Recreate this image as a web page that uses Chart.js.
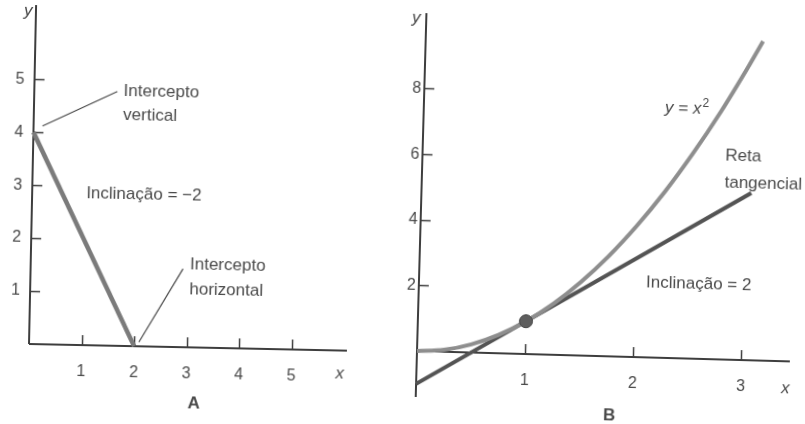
<!DOCTYPE html>
<html>
<head>
<meta charset="utf-8">
<script src="https://cdn.jsdelivr.net/npm/chart.js@4/dist/chart.umd.min.js"></script>
<style>
  html, body { margin: 0; padding: 0; background: #fff; overflow: hidden; }
  #wrap { position: relative; width: 805px; height: 424px; overflow: hidden; }
  .panel { position: absolute; top: 0; height: 424px; }
  /* leve inclinação da figura digitalizada */
  #panelA { left: 0; width: 400px; transform: rotate(1.2deg); transform-origin: 29px 344px; }
  #panelB { left: 400px; width: 405px; transform: rotate(1.6deg); transform-origin: 17px 351px; }
</style>
</head>
<body>
<div id="wrap">
  <div class="panel" id="panelA"><canvas id="chartA"></canvas></div>
  <div class="panel" id="panelB"><canvas id="chartB"></canvas></div>
</div>
<script>
// ── Dados ──

// Painel A: reta com inclinação -2
const lineAX = [0, 2];
const lineAY = [4, 0];
const xTicksA = [1, 2, 3, 4, 5];
const yTicksA = [1, 2, 3, 4, 5];

// Painel B: curva y = x² e reta tangente em x = 1
const curveBX = [0, 0.25, 0.5, 0.75, 1, 1.25, 1.5, 1.75, 2, 2.25, 2.5, 2.75, 3, 3.12];
const curveBY = [0, 0.06, 0.25, 0.56, 1, 1.56, 2.25, 3.06, 4, 5.06, 6.25, 7.56, 9, 9.73];
const tangentBX = [0, 3.05];
const tangentBY = [-1, 5.1];
const pointBX = [1];
const pointBY = [1];
const xTicksB = [1, 2, 3];
const yTicksB = [2, 4, 6, 8];

const FONT = '"Liberation Sans", Arial, sans-serif';
const INK = "#4a4a4a";
const AXIS = "#3e3e3e";

const toXY = (xs, ys) => xs.map((x, i) => ({ x: x, y: ys[i] }));

// ── Apufunktiot ──

function fixedTicks(values) {
  return (scale) => {
    scale.ticks = values.map((v) => ({ value: v }));
  };
}

function noPadding(extra) {
  return (scale) => {
    scale.paddingTop = 0;
    scale.paddingBottom = 0;
    scale.paddingLeft = 0;
    scale.paddingRight = 0;
    if (extra) extra(scale);
  };
}

function drawText(ctx, text, x, y, opts = {}) {
  ctx.save();
  ctx.font = (opts.style || "normal") + " " + (opts.weight || "normal") + " " +
    (opts.size || 17) + "px " + FONT;
  ctx.fillStyle = opts.color || INK;
  ctx.textAlign = opts.align || "left";
  ctx.textBaseline = "middle";
  ctx.fillText(text, x, y);
  ctx.restore();
}

function drawLeader(ctx, xs, ys, x1, y1, x2, y2) {
  ctx.save();
  ctx.strokeStyle = INK;
  ctx.lineWidth = 1.2;
  ctx.beginPath();
  ctx.moveTo(xs.getPixelForValue(x1), ys.getPixelForValue(y1));
  ctx.lineTo(xs.getPixelForValue(x2), ys.getPixelForValue(y2));
  ctx.stroke();
  ctx.restore();
}

// Marcas das escalas desenhadas para dentro, como no original
function drawInnerTicks(ctx, xs, ys, xTicks, yTicks, len) {
  ctx.save();
  ctx.strokeStyle = AXIS;
  ctx.lineWidth = 1.5;
  const y0 = ys.getPixelForValue(0);
  const x0 = xs.getPixelForValue(0);
  xTicks.forEach((v) => {
    const px = Math.round(xs.getPixelForValue(v)) + 0.5;
    ctx.beginPath();
    ctx.moveTo(px, y0);
    ctx.lineTo(px, y0 - len);
    ctx.stroke();
  });
  yTicks.forEach((v) => {
    const py = Math.round(ys.getPixelForValue(v)) + 0.5;
    ctx.beginPath();
    ctx.moveTo(x0, py);
    ctx.lineTo(x0 + len, py);
    ctx.stroke();
  });
  ctx.restore();
}

function drawAxes(ctx, xs, ys) {
  ctx.save();
  ctx.strokeStyle = AXIS;
  ctx.lineWidth = 2;
  const x0 = xs.getPixelForValue(0);
  const y0 = ys.getPixelForValue(0);
  ctx.beginPath();
  ctx.moveTo(x0, ys.top);
  ctx.lineTo(x0, ys.bottom);
  ctx.moveTo(xs.left, y0);
  ctx.lineTo(xs.right, y0);
  ctx.stroke();
  ctx.restore();
}

// ── Plugins ──

const panelAPlugin = {
  id: "panelA",
  beforeDatasetsDraw(chart) {
    const { ctx } = chart;
    const xs = chart.scales.x;
    const ys = chart.scales.y;
    drawAxes(ctx, xs, ys);
    drawInnerTicks(ctx, xs, ys, xTicksA, yTicksA, 10);
  },
  afterDatasetsDraw(chart) {
    const { ctx } = chart;
    const xs = chart.scales.x;
    const ys = chart.scales.y;

    drawText(ctx, "y", 17, 11, { style: "italic" });
    drawText(ctx, "x", 336, 367, { style: "italic" });
    drawText(ctx, "A", 195, 400, { weight: "bold", align: "center" });

    drawText(ctx, "Intercepto", xs.getPixelForValue(1.7), ys.getPixelForValue(4.8));
    drawText(ctx, "vertical", xs.getPixelForValue(1.7), ys.getPixelForValue(4.35));
    drawLeader(ctx, xs, ys, 1.58, 4.8, 0.17, 4.12);

    drawText(ctx, "Inclinação = −2", xs.getPixelForValue(1.03), ys.getPixelForValue(2.87));

    drawText(ctx, "Intercepto", xs.getPixelForValue(3.03), ys.getPixelForValue(1.56));
    drawText(ctx, "horizontal", xs.getPixelForValue(3.03), ys.getPixelForValue(1.08));
    drawLeader(ctx, xs, ys, 2.9, 1.48, 2.09, 0.08);
  },
};

const panelBPlugin = {
  id: "panelB",
  beforeDatasetsDraw(chart) {
    const { ctx } = chart;
    const xs = chart.scales.x;
    const ys = chart.scales.y;
    drawAxes(ctx, xs, ys);
    drawInnerTicks(ctx, xs, ys, xTicksB, yTicksB, 10);
  },
  afterDatasetsDraw(chart) {
    const { ctx } = chart;
    const xs = chart.scales.x;
    const ys = chart.scales.y;

    drawText(ctx, "y", 7, 18, { style: "italic", align: "center" });
    drawText(ctx, "x", 382, 378, { style: "italic" });
    drawText(ctx, "B", 211, 410, { weight: "bold", align: "center" });

    // y = x² com expoente
    const tx = xs.getPixelForValue(2.23);
    const ty = ys.getPixelForValue(7.6);
    ctx.save();
    ctx.font = "italic 17px " + FONT;
    const w1 = ctx.measureText("y = x").width;
    ctx.restore();
    drawText(ctx, "y = x", tx, ty, { style: "italic" });
    drawText(ctx, "2", tx + w1 + 1, ty - 6, { size: 12 });

    drawText(ctx, "Reta", xs.getPixelForValue(2.8), ys.getPixelForValue(6.2));
    drawText(ctx, "tangencial", xs.getPixelForValue(2.8), ys.getPixelForValue(5.4));

    drawText(ctx, "Inclinação = 2", xs.getPixelForValue(2.1), ys.getPixelForValue(2.27));
  },
};

// ── Gráficos ──

function baseScale(min, max, ticks, afterFit, padding) {
  return {
    type: "linear",
    min: min,
    max: max,
    afterBuildTicks: fixedTicks(ticks),
    afterFit: noPadding(afterFit),
    grid: { display: false, drawTicks: false },
    border: { display: false },
    ticks: {
      color: INK,
      font: { family: FONT, size: 16 },
      padding: padding,
      autoSkip: false,
      maxRotation: 0,
    },
  };
}

const chartA = new Chart(document.getElementById("chartA"), {
  type: "scatter",
  data: {
    datasets: [
      {
        label: "A",
        data: toXY(lineAX, lineAY),
        showLine: true,
        borderColor: "#7b7b7b",
        borderWidth: 4.5,
        pointRadius: 0,
        clip: false,
      },
    ],
  },
  options: {
    responsive: true,
    maintainAspectRatio: false,
    animation: false,
    events: [],
    layout: { padding: { top: 5, right: 53, bottom: 0, left: 0 } },
    plugins: { legend: { display: false }, tooltip: { enabled: false } },
    scales: {
      x: baseScale(0, 6.05, xTicksA, (s) => { s.height = 80; }, 17),
      y: baseScale(0, 6.4, yTicksA, (s) => { s.width = 29; }, 10),
    },
  },
  plugins: [panelAPlugin],
});

const xScaleB = baseScale(0, 3.45, xTicksB, null, 17);
xScaleB.position = { y: 0 };

const chartB = new Chart(document.getElementById("chartB"), {
  type: "scatter",
  data: {
    datasets: [
      {
        label: "Reta tangencial",
        data: toXY(tangentBX, tangentBY),
        showLine: true,
        borderColor: "#545454",
        borderWidth: 4,
        pointRadius: 0,
        clip: false,
        order: 2,
      },
      {
        label: "y = x²",
        data: toXY(curveBX, curveBY),
        showLine: true,
        borderColor: "#8e8e8e",
        borderWidth: 4,
        pointRadius: 0,
        cubicInterpolationMode: "monotone",
        clip: false,
        order: 1,
      },
      {
        label: "ponto",
        data: toXY(pointBX, pointBY),
        pointRadius: 6.5,
        backgroundColor: "#5e5e5e",
        borderColor: "#444",
        borderWidth: 1,
        order: 0,
      },
    ],
  },
  options: {
    responsive: true,
    maintainAspectRatio: false,
    animation: false,
    events: [],
    layout: { padding: { top: 13, right: 15, bottom: 27, left: 0 } },
    plugins: { legend: { display: false }, tooltip: { enabled: false } },
    scales: {
      x: xScaleB,
      y: baseScale(-1.4, 10.3, yTicksB, (s) => { s.width = 17; }, 3),
    },
  },
  plugins: [panelBPlugin],
});
</script>
</body>
</html>
